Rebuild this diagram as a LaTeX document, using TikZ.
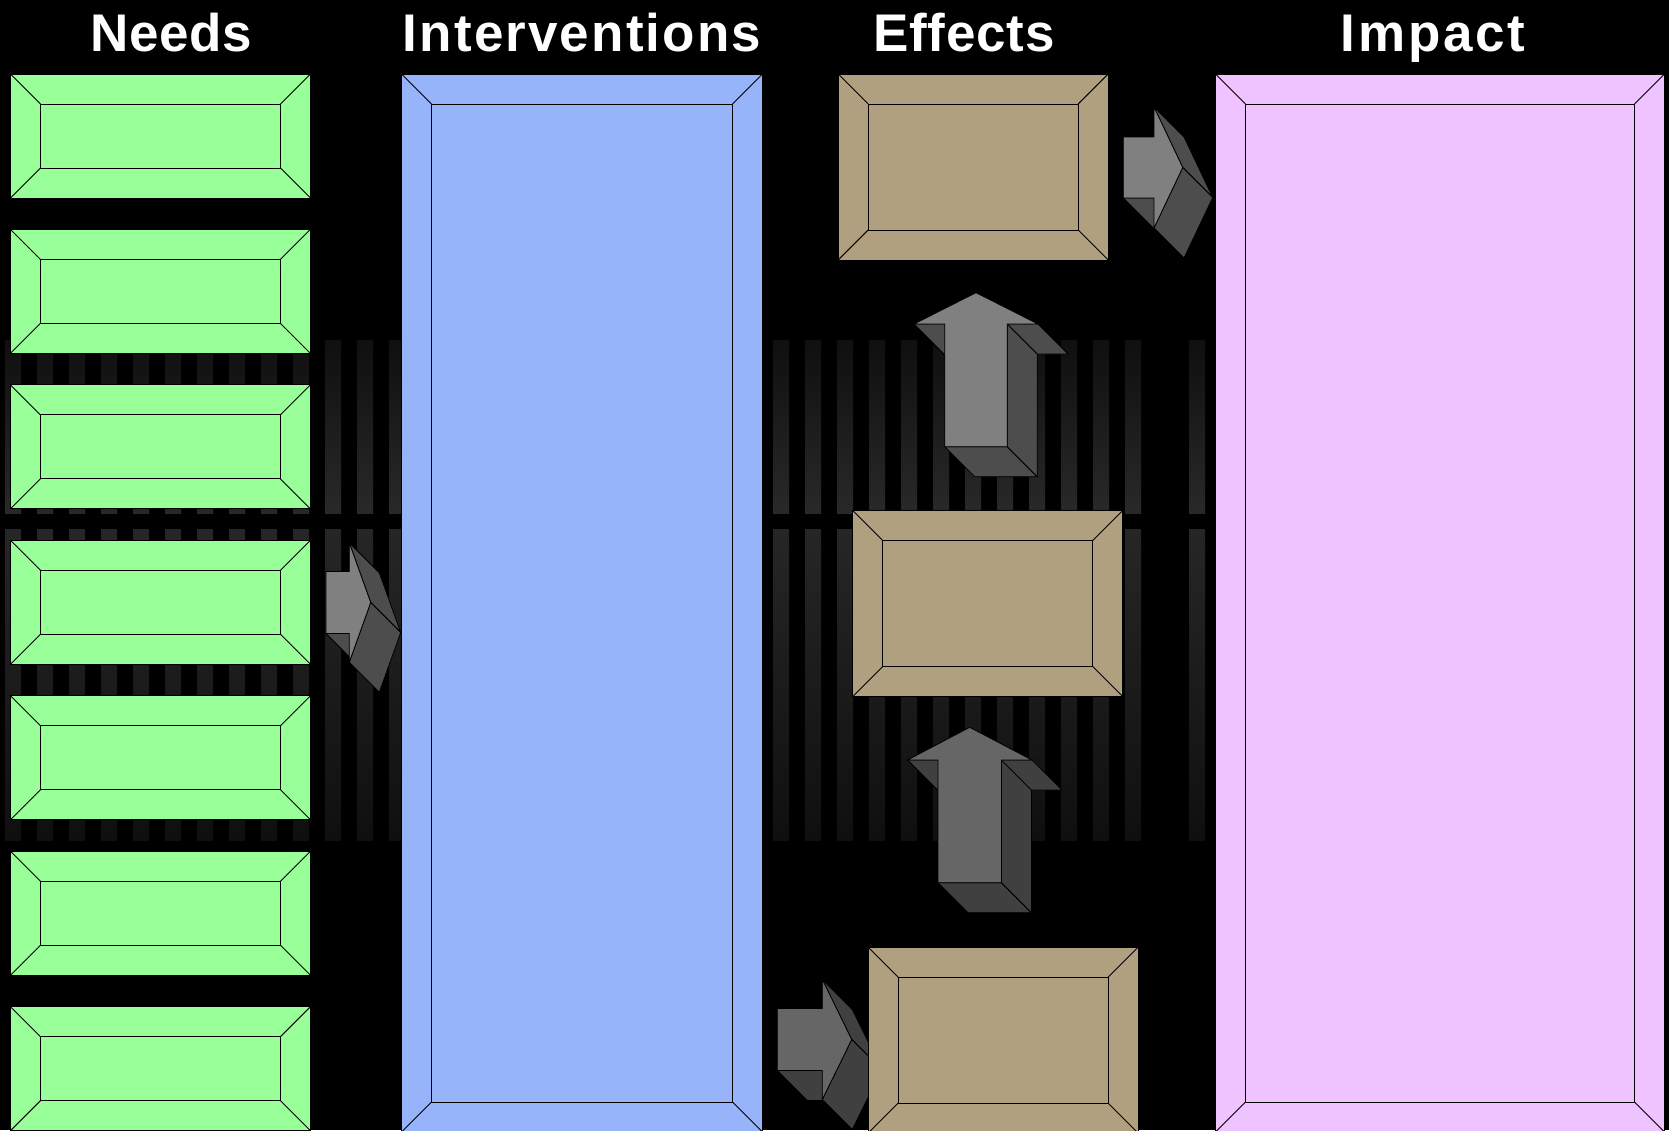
\documentclass[tikz,border=0pt]{standalone}
\usepackage{fontspec}
\setmainfont{Liberation Sans}

\definecolor{needgreen}{RGB}{153,255,153}
\definecolor{intblue}{RGB}{151,180,250}
\definecolor{efftan}{RGB}{176,160,128}
\definecolor{imppink}{RGB}{239,195,255}
\definecolor{arrowlight}{RGB}{128,128,128}
\definecolor{arrowlightside}{RGB}{77,77,77}
\definecolor{arrowdark}{RGB}{102,102,102}
\definecolor{arrowdarkside}{RGB}{64,64,64}

% block arrow pointing right: x0, x1 (head base), x2 (tip), mid y, half shaft, half head, front, side
\newcommand{\blockright}[8]{%
  \filldraw[blockface, fill=#8] (#1,{#4+#5}) -- (#2,{#4+#5}) -- ({#2+30},{#4+#5+30}) -- ({#1+30},{#4+#5+30}) -- cycle;
  \filldraw[blockface, fill=#8] (#2,{#4-#6}) -- (#3,#4) -- ({#3+30},{#4+30}) -- ({#2+30},{#4-#6+30}) -- cycle;
  \filldraw[blockface, fill=#8] (#3,#4) -- (#2,{#4+#6}) -- ({#2+30},{#4+#6+30}) -- ({#3+30},{#4+30}) -- cycle;
  \filldraw[blockface, fill=#7] (#1,{#4-#5}) -- (#2,{#4-#5}) -- (#2,{#4-#6}) -- (#3,#4)
    -- (#2,{#4+#6}) -- (#2,{#4+#5}) -- (#1,{#4+#5}) -- cycle;
}

% block arrow pointing up: mid x, tip y, head base y, shaft end y, half head, half shaft, front, side
\newcommand{\blockup}[8]{%
  \filldraw[blockface, fill=#8] ({#1-#5},#3) -- ({#1-#6},#3) -- ({#1-#6+30},{#3+30}) -- ({#1-#5+30},{#3+30}) -- cycle;
  \filldraw[blockface, fill=#8] ({#1-#6},#4) -- ({#1+#6},#4) -- ({#1+#6+30},{#4+30}) -- ({#1-#6+30},{#4+30}) -- cycle;
  \filldraw[blockface, fill=#8] ({#1+#6},#3) -- ({#1+#6+30},{#3+30}) -- ({#1+#6+30},{#4+30}) -- ({#1+#6},#4) -- cycle;
  \filldraw[blockface, fill=#8] ({#1+#6},#3) -- ({#1+#5},#3) -- ({#1+#5+30},{#3+30}) -- ({#1+#6+30},{#3+30}) -- cycle;
  \filldraw[blockface, fill=#7] (#1,#2) -- ({#1+#5},#3) -- ({#1+#6},#3) -- ({#1+#6},#4)
    -- ({#1-#6},#4) -- ({#1-#6},#3) -- ({#1-#5},#3) -- cycle;
}

\begin{document}
\begin{tikzpicture}[
  x=1pt, y=-1pt,
  bevel/.style={
    draw=black,
    line width=0.9pt,
    inner sep=0pt,
    anchor=north west,
    path picture={
      \draw[line width=0.9pt] ([shift={(30,30)}]path picture bounding box.north west)
        rectangle ([shift={(-30,-30)}]path picture bounding box.south east);
      \draw[line width=0.9pt] (path picture bounding box.north west) -- ++(30,30);
      \draw[line width=0.9pt] (path picture bounding box.north east) -- ++(-30,30);
      \draw[line width=0.9pt] (path picture bounding box.south west) -- ++(30,-30);
      \draw[line width=0.9pt] (path picture bounding box.south east) -- ++(-30,-30);
    }
  },
  needbox/.style={bevel, fill=needgreen, minimum width=300pt, minimum height=124pt},
  effbox/.style={bevel, fill=efftan, minimum width=270pt, minimum height=186pt},
  blockface/.style={draw=black, line width=0.8pt, line join=round},
  title/.style={
    text=white,
    anchor=base,
    inner sep=0pt,
    font=\fontsize{53}{60}\selectfont\bfseries
  }
]

\useasboundingbox (0,0) rectangle (1669,1130);
\clip (0,0) rectangle (1669,1130);
\fill[black] (0,0) rectangle (1669,1130);

% striped backdrop
\foreach \k in {0,...,35,37} {
  \shade[top color=black!94, bottom color=black!84] ({5+32*\k},340) rectangle ({21+32*\k},513);
  \shade[top color=black!85, bottom color=black!94] ({5+32*\k},529.5) rectangle ({21+32*\k},840);
}

\node[title] (tneeds) at (171,51) {\addfontfeatures{LetterSpace=1}Needs};
\node[title] (tinterv) at (582,51) {\addfontfeatures{LetterSpace=4}Interventions};
\node[title] (teffects) at (964,51) {\addfontfeatures{LetterSpace=1.5}Effects};
\node[title] (timpact) at (1433,51) {\addfontfeatures{LetterSpace=5}Impact};

% arrows
\blockright{326}{349.3}{370.7}{602.5}{31}{59.7}{arrowlight}{arrowlightside}
\blockright{1123.3}{1154}{1182.7}{167.5}{30.5}{60.5}{arrowlight}{arrowlightside}
\blockright{777.3}{822.3}{851.7}{1039.5}{31}{60}{arrowdark}{arrowdarkside}
\blockup{976}{292.7}{324}{446.7}{62}{31.2}{arrowlight}{arrowlightside}
\blockup{969.7}{727.3}{760}{882.7}{62.2}{31.7}{arrowdark}{arrowdarkside}

% boxes
\foreach \i in {1,...,7}
  \node[needbox] (need\i) at (10,{73.5+155.45*(\i-1)}) {};

\node[bevel, fill=intblue, minimum width=361pt, minimum height=1058pt] (interv) at (401,73.5) {};

\node[effbox] (eff1) at (837.7,73.5) {};
\node[effbox] (eff2) at (852.3,510) {};
\node[effbox] (eff3) at (867.7,946.7) {};

\node[bevel, fill=imppink, minimum width=449pt, minimum height=1058pt] (impact) at (1215,73.5) {};

\end{tikzpicture}
\end{document}
